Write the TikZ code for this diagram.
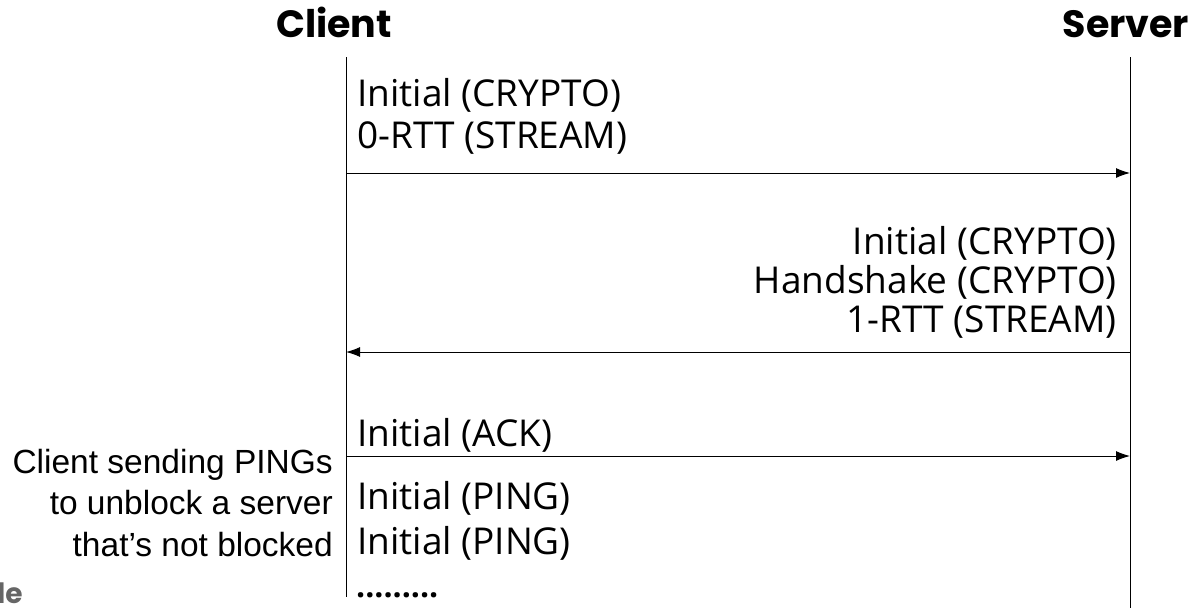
\documentclass[tikz,border=0pt]{standalone}
\usepackage{fontspec}
\setmainfont{Open Sans}
\newfontfamily\titlefont{Poppins}
\newfontfamily\notefont{Liberation Sans}
\usetikzlibrary{arrows.meta}

\begin{document}
\begin{tikzpicture}[x=1pt,y=-1pt,
    title/.style={inner sep=0pt, anchor=base, font=\titlefont\fontsize{38}{42}\selectfont\bfseries},
    msg/.style={inner sep=0pt, font=\fontsize{37}{40}\selectfont},
    note/.style={inner sep=0pt, anchor=base east, font=\notefont\fontsize{33.5}{38}\selectfont},
    msgarrow/.style={-{Latex[length=14pt,width=10pt]}, line width=1pt}]
			\useasboundingbox (0,0) rectangle (1195,608);
			% lifelines
			\node[title] (client) at (334, 37)	{Client};
			\node[title] (server) at (1126, 37)	{Server};
			\coordinate (c0) at (346, 57);
			\coordinate (c1) at (346, 597);
			\coordinate (s0) at (1130, 57);
			\coordinate (s1) at (1130, 608);
			\draw[line width=1pt] (c0) -- (c1);
			\draw[line width=1pt] (s0) -- (s1);

			% arrow ends
			\coordinate (a1) at (346, 173);  \coordinate (b1) at (1130, 173);
			\coordinate (a2) at (1130, 352); \coordinate (b2) at (346, 352);
			\coordinate (a3) at (346, 456);  \coordinate (b3) at (1130, 456);
			\foreach \u\v in {a1/b1, a2/b2, a3/b3}
			{	\draw[msgarrow] (\u) -- (\v);
			}

			% messages from the client
			\def\fromclient {m1/106/Initial (CRYPTO), m2/148/0-RTT (STREAM), m3/446/Initial (ACK),
			m4/509/Initial (PING), m5/554/Initial (PING)}  % list elements
			\foreach \n\y\txt in \fromclient
			{	\node[msg, anchor=base west] (\n) at (357, \y) {\txt};
			}
			\node[msg, anchor=base west, font=\fontsize{32}{36}\selectfont\bfseries] (m6) at (356, 597) {.........};
			% messages from the server
			\def\fromserver {r1/254/Initial (CRYPTO), r2/293/Handshake (CRYPTO), r3/332/1-RTT (STREAM)}
			\foreach \n\y\txt in \fromserver
			{	\node[msg, anchor=base east] (\n) at (1117, \y) {\txt};
			}

			% side note
			\node[note] (n1) at (333, 473) {Client sending PINGs};
			\node[note] (n2) at (333, 514) {to unblock a server};
			\node[note] (n3) at (333, 556) {that’s not blocked};
			\node[inner sep=0pt, anchor=base west, text=black!60, font=\titlefont\fontsize{28}{32}\selectfont\bfseries] (logo) at (-3, 603) {le};
		\end{tikzpicture}
\end{document}
